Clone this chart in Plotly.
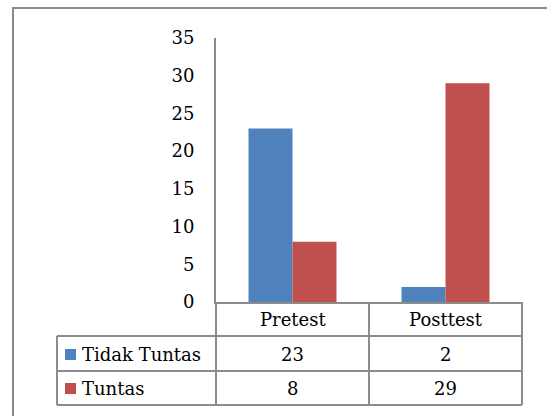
import plotly.graph_objects as go

categories = ["Pretest", "Posttest"]
series_names = ["Tidak Tuntas", "Tuntas"]
tidak_tuntas = [23, 2]
tuntas = [8, 29]
series_values = [tidak_tuntas, tuntas]
series_colors = ["#4F81BD", "#C0504D"]
y_ticks = [0, 5, 10, 15, 20, 25, 30, 35]

W, H = 547, 416
ML, MR, MT, MB = 216, 25, 38, 114
PW, PH = W - ML - MR, H - MT - MB

FONT = "DejaVu Serif"
FS = 18
GRID = "#8C8C8C"


def px_x(x):
    return (x - ML) / PW


def px_y(y):
    return (H - MB - y) / PH


fig = go.Figure()
for name, vals, col in zip(series_names, series_values, series_colors):
    fig.add_trace(go.Bar(x=categories, y=vals, name=name, marker=dict(color=col, line=dict(width=0))))

shapes = []
annotations = []

# data table grid
table_left, table_right = px_x(57), 1.0
row_lines = [H - MB + 34, H - MB + 69, H - MB + 103]
for yy in row_lines:
    shapes.append(dict(type="line", xref="paper", yref="paper", x0=table_left, x1=table_right,
                       y0=px_y(yy), y1=px_y(yy), line=dict(color=GRID, width=2)))
table_bottom = px_y(row_lines[-1])
for xx, top in [(57, row_lines[0]), (ML, H - MB), (ML + PW / 2, H - MB), (ML + PW, H - MB)]:
    shapes.append(dict(type="line", xref="paper", yref="paper", x0=px_x(xx), x1=px_x(xx),
                       y0=px_y(top), y1=table_bottom, line=dict(color=GRID, width=2)))

# chart frame
shapes.append(dict(type="rect", xref="paper", yref="paper", x0=px_x(13), x1=px_x(W + 20),
                   y0=px_y(H + 20), y1=px_y(8), line=dict(color="#8A8A8A", width=2)))

# category header row
for c in categories:
    annotations.append(dict(x=c, xref="x", y=px_y(H - MB + 17), yref="paper", text=c, showarrow=False,
                            font=dict(family=FONT, size=FS, color="black"), xanchor="center", yanchor="middle"))

# series rows: legend key, name, values
row_centers = [H - MB + 52, H - MB + 86]
for name, vals, col, yc in zip(series_names, series_values, series_colors, row_centers):
    shapes.append(dict(type="rect", xref="paper", yref="paper", x0=px_x(65), x1=px_x(76),
                       y0=px_y(yc + 6), y1=px_y(yc - 5), fillcolor=col, line=dict(width=0)))
    annotations.append(dict(x=px_x(80), xref="paper", y=px_y(yc), yref="paper", text=name, showarrow=False,
                            font=dict(family=FONT, size=FS, color="black"), xanchor="left", yanchor="middle"))
    for c, v in zip(categories, vals):
        annotations.append(dict(x=c, xref="x", y=px_y(yc), yref="paper", text=str(v), showarrow=False,
                                font=dict(family=FONT, size=FS, color="black"), xanchor="center", yanchor="middle"))

fig.update_layout(
    width=W, height=H,
    margin=dict(l=ML, r=MR, t=MT, b=MB),
    paper_bgcolor="white", plot_bgcolor="white",
    barmode="group", bargap=0.425, bargroupgap=0,
    showlegend=False,
    font=dict(family=FONT, size=FS, color="black"),
    xaxis=dict(range=[-0.5, 1.5], showticklabels=False, ticks="", showgrid=False, zeroline=False,
               showline=True, linecolor=GRID, linewidth=2, fixedrange=True),
    yaxis=dict(range=[0, 35], tickvals=y_ticks, ticks="", showgrid=False, zeroline=False,
               showline=True, linecolor=GRID, linewidth=2, ticklabelstandoff=16,
               tickfont=dict(family=FONT, size=FS, color="black"), fixedrange=True),
    shapes=shapes,
    annotations=annotations,
)

fig.write_html("out.html")
